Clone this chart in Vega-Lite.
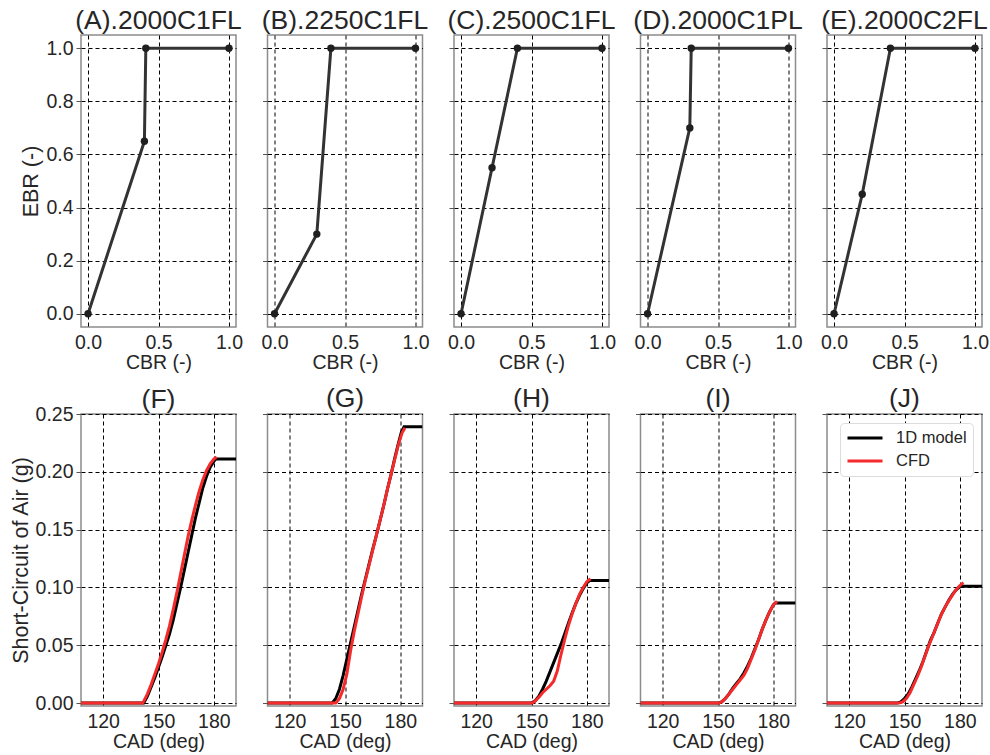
{
  "$schema": "https://vega.github.io/schema/vega-lite/v6.json",
  "padding": {"left": 9, "top": 6, "right": 4, "bottom": 6},
  "background": "white",
  "config": {
    "font": "Liberation Sans",
    "view": {"stroke": "#8c8c8c", "strokeWidth": 1.5},
    "axis": {
      "grid": true, "gridColor": "#000000", "gridDash": [4, 3], "gridWidth": 1, "gridOpacity": 1,
      "domain": false,
      "labelFont": "Liberation Sans", "titleFont": "Liberation Sans",
      "labelFontSize": 19.5, "titleFontSize": 19.5,
      "labelColor": "#262626", "titleColor": "#262626", "titleFontWeight": "normal",
      "tickColor": "#555555", "tickSize": 5, "tickWidth": 1
    },
    "axisX": {"ticks": false, "labelPadding": 6, "titlePadding": 2},
    "axisY": {"labelPadding": 3, "titlePadding": 3, "titleFontSize": 21.5},
    "title": {"font": "Liberation Sans", "fontSize": 26.5, "fontWeight": "normal", "color": "#262626", "offset": 1, "frame": "group"},
    "legend": {
      "labelFont": "Liberation Sans", "labelFontSize": 16.5, "labelColor": "#262626",
      "symbolType": "stroke", "symbolStrokeWidth": 3, "symbolSize": 1225,
      "fillColor": "white", "strokeColor": "#dcdcdc", "cornerRadius": 4, "padding": 6,
      "rowPadding": 5, "labelOffset": 12, "offset": 9, "clipHeight": 18
    }
  },
  "datasets": {
    "ratio": [
      {"case": "A", "i": 0, "cbr": 0.0, "ebr": 0.0},
      {"case": "A", "i": 1, "cbr": 0.40, "ebr": 0.65},
      {"case": "A", "i": 2, "cbr": 0.41, "ebr": 1.0},
      {"case": "A", "i": 3, "cbr": 1.0, "ebr": 1.0},
      {"case": "B", "i": 0, "cbr": 0.0, "ebr": 0.0},
      {"case": "B", "i": 1, "cbr": 0.30, "ebr": 0.30},
      {"case": "B", "i": 2, "cbr": 0.40, "ebr": 1.0},
      {"case": "B", "i": 3, "cbr": 1.0, "ebr": 1.0},
      {"case": "C", "i": 0, "cbr": 0.0, "ebr": 0.0},
      {"case": "C", "i": 1, "cbr": 0.22, "ebr": 0.55},
      {"case": "C", "i": 2, "cbr": 0.40, "ebr": 1.0},
      {"case": "C", "i": 3, "cbr": 1.0, "ebr": 1.0},
      {"case": "D", "i": 0, "cbr": 0.0, "ebr": 0.0},
      {"case": "D", "i": 1, "cbr": 0.30, "ebr": 0.70},
      {"case": "D", "i": 2, "cbr": 0.31, "ebr": 1.0},
      {"case": "D", "i": 3, "cbr": 1.0, "ebr": 1.0},
      {"case": "E", "i": 0, "cbr": 0.0, "ebr": 0.0},
      {"case": "E", "i": 1, "cbr": 0.20, "ebr": 0.45},
      {"case": "E", "i": 2, "cbr": 0.40, "ebr": 1.0},
      {"case": "E", "i": 3, "cbr": 1.0, "ebr": 1.0}
    ],
    "mass": [
      {"case": "F", "model": "1D model", "cad": 108, "air": 0},
      {"case": "F", "model": "1D model", "cad": 142, "air": 0},
      {"case": "F", "model": "1D model", "cad": 144, "air": 0.006},
      {"case": "F", "model": "1D model", "cad": 146, "air": 0.014},
      {"case": "F", "model": "1D model", "cad": 148, "air": 0.022},
      {"case": "F", "model": "1D model", "cad": 150, "air": 0.031},
      {"case": "F", "model": "1D model", "cad": 152, "air": 0.040},
      {"case": "F", "model": "1D model", "cad": 154, "air": 0.050},
      {"case": "F", "model": "1D model", "cad": 156, "air": 0.060},
      {"case": "F", "model": "1D model", "cad": 158, "air": 0.072},
      {"case": "F", "model": "1D model", "cad": 160, "air": 0.086},
      {"case": "F", "model": "1D model", "cad": 162, "air": 0.100},
      {"case": "F", "model": "1D model", "cad": 164, "air": 0.115},
      {"case": "F", "model": "1D model", "cad": 166, "air": 0.130},
      {"case": "F", "model": "1D model", "cad": 168, "air": 0.145},
      {"case": "F", "model": "1D model", "cad": 170, "air": 0.160},
      {"case": "F", "model": "1D model", "cad": 172, "air": 0.173},
      {"case": "F", "model": "1D model", "cad": 174, "air": 0.186},
      {"case": "F", "model": "1D model", "cad": 176, "air": 0.196},
      {"case": "F", "model": "1D model", "cad": 178, "air": 0.204},
      {"case": "F", "model": "1D model", "cad": 180, "air": 0.209},
      {"case": "F", "model": "1D model", "cad": 181, "air": 0.211},
      {"case": "F", "model": "1D model", "cad": 192, "air": 0.211},
      {"case": "F", "model": "CFD", "cad": 108, "air": 0},
      {"case": "F", "model": "CFD", "cad": 141.5, "air": 0},
      {"case": "F", "model": "CFD", "cad": 144, "air": 0.008},
      {"case": "F", "model": "CFD", "cad": 146, "air": 0.016},
      {"case": "F", "model": "CFD", "cad": 148, "air": 0.025},
      {"case": "F", "model": "CFD", "cad": 150, "air": 0.034},
      {"case": "F", "model": "CFD", "cad": 152, "air": 0.044},
      {"case": "F", "model": "CFD", "cad": 154, "air": 0.055},
      {"case": "F", "model": "CFD", "cad": 156, "air": 0.067},
      {"case": "F", "model": "CFD", "cad": 158, "air": 0.081},
      {"case": "F", "model": "CFD", "cad": 160, "air": 0.096},
      {"case": "F", "model": "CFD", "cad": 162, "air": 0.112},
      {"case": "F", "model": "CFD", "cad": 164, "air": 0.128},
      {"case": "F", "model": "CFD", "cad": 166, "air": 0.144},
      {"case": "F", "model": "CFD", "cad": 168, "air": 0.158},
      {"case": "F", "model": "CFD", "cad": 170, "air": 0.171},
      {"case": "F", "model": "CFD", "cad": 172, "air": 0.183},
      {"case": "F", "model": "CFD", "cad": 174, "air": 0.193},
      {"case": "F", "model": "CFD", "cad": 176, "air": 0.201},
      {"case": "F", "model": "CFD", "cad": 178, "air": 0.207},
      {"case": "F", "model": "CFD", "cad": 180, "air": 0.211},
      {"case": "F", "model": "CFD", "cad": 181.5, "air": 0.213},

      {"case": "G", "model": "1D model", "cad": 108, "air": 0},
      {"case": "G", "model": "1D model", "cad": 143, "air": 0},
      {"case": "G", "model": "1D model", "cad": 145, "air": 0.004},
      {"case": "G", "model": "1D model", "cad": 147, "air": 0.012},
      {"case": "G", "model": "1D model", "cad": 149, "air": 0.024},
      {"case": "G", "model": "1D model", "cad": 151, "air": 0.038},
      {"case": "G", "model": "1D model", "cad": 153, "air": 0.052},
      {"case": "G", "model": "1D model", "cad": 155, "air": 0.066},
      {"case": "G", "model": "1D model", "cad": 157, "air": 0.080},
      {"case": "G", "model": "1D model", "cad": 159, "air": 0.094},
      {"case": "G", "model": "1D model", "cad": 161, "air": 0.107},
      {"case": "G", "model": "1D model", "cad": 163, "air": 0.120},
      {"case": "G", "model": "1D model", "cad": 165, "air": 0.133},
      {"case": "G", "model": "1D model", "cad": 167, "air": 0.145},
      {"case": "G", "model": "1D model", "cad": 169, "air": 0.158},
      {"case": "G", "model": "1D model", "cad": 171, "air": 0.171},
      {"case": "G", "model": "1D model", "cad": 173, "air": 0.185},
      {"case": "G", "model": "1D model", "cad": 175, "air": 0.198},
      {"case": "G", "model": "1D model", "cad": 177, "air": 0.212},
      {"case": "G", "model": "1D model", "cad": 179, "air": 0.225},
      {"case": "G", "model": "1D model", "cad": 180.5, "air": 0.234},
      {"case": "G", "model": "1D model", "cad": 182, "air": 0.239},
      {"case": "G", "model": "1D model", "cad": 192, "air": 0.239},
      {"case": "G", "model": "CFD", "cad": 108, "air": 0},
      {"case": "G", "model": "CFD", "cad": 145, "air": 0},
      {"case": "G", "model": "CFD", "cad": 147, "air": 0.004},
      {"case": "G", "model": "CFD", "cad": 149, "air": 0.012},
      {"case": "G", "model": "CFD", "cad": 151, "air": 0.025},
      {"case": "G", "model": "CFD", "cad": 153, "air": 0.045},
      {"case": "G", "model": "CFD", "cad": 155, "air": 0.062},
      {"case": "G", "model": "CFD", "cad": 157, "air": 0.077},
      {"case": "G", "model": "CFD", "cad": 159, "air": 0.092},
      {"case": "G", "model": "CFD", "cad": 161, "air": 0.106},
      {"case": "G", "model": "CFD", "cad": 163, "air": 0.119},
      {"case": "G", "model": "CFD", "cad": 165, "air": 0.132},
      {"case": "G", "model": "CFD", "cad": 167, "air": 0.145},
      {"case": "G", "model": "CFD", "cad": 169, "air": 0.158},
      {"case": "G", "model": "CFD", "cad": 171, "air": 0.171},
      {"case": "G", "model": "CFD", "cad": 173, "air": 0.185},
      {"case": "G", "model": "CFD", "cad": 175, "air": 0.198},
      {"case": "G", "model": "CFD", "cad": 177, "air": 0.211},
      {"case": "G", "model": "CFD", "cad": 179, "air": 0.224},
      {"case": "G", "model": "CFD", "cad": 181, "air": 0.234},
      {"case": "G", "model": "CFD", "cad": 182.5, "air": 0.238},

      {"case": "H", "model": "1D model", "cad": 108, "air": 0},
      {"case": "H", "model": "1D model", "cad": 150, "air": 0},
      {"case": "H", "model": "1D model", "cad": 152, "air": 0.002},
      {"case": "H", "model": "1D model", "cad": 154, "air": 0.006},
      {"case": "H", "model": "1D model", "cad": 156, "air": 0.012},
      {"case": "H", "model": "1D model", "cad": 158, "air": 0.019},
      {"case": "H", "model": "1D model", "cad": 160, "air": 0.027},
      {"case": "H", "model": "1D model", "cad": 162, "air": 0.035},
      {"case": "H", "model": "1D model", "cad": 164, "air": 0.043},
      {"case": "H", "model": "1D model", "cad": 166, "air": 0.051},
      {"case": "H", "model": "1D model", "cad": 168, "air": 0.060},
      {"case": "H", "model": "1D model", "cad": 170, "air": 0.069},
      {"case": "H", "model": "1D model", "cad": 172, "air": 0.078},
      {"case": "H", "model": "1D model", "cad": 174, "air": 0.086},
      {"case": "H", "model": "1D model", "cad": 176, "air": 0.093},
      {"case": "H", "model": "1D model", "cad": 178, "air": 0.099},
      {"case": "H", "model": "1D model", "cad": 180, "air": 0.104},
      {"case": "H", "model": "1D model", "cad": 181.5, "air": 0.106},
      {"case": "H", "model": "1D model", "cad": 192, "air": 0.106},
      {"case": "H", "model": "CFD", "cad": 108, "air": 0},
      {"case": "H", "model": "CFD", "cad": 150.5, "air": 0},
      {"case": "H", "model": "CFD", "cad": 152, "air": 0.002},
      {"case": "H", "model": "CFD", "cad": 154, "air": 0.005},
      {"case": "H", "model": "CFD", "cad": 156, "air": 0.009},
      {"case": "H", "model": "CFD", "cad": 158, "air": 0.012},
      {"case": "H", "model": "CFD", "cad": 160, "air": 0.015},
      {"case": "H", "model": "CFD", "cad": 162, "air": 0.019},
      {"case": "H", "model": "CFD", "cad": 164, "air": 0.028},
      {"case": "H", "model": "CFD", "cad": 166, "air": 0.042},
      {"case": "H", "model": "CFD", "cad": 168, "air": 0.055},
      {"case": "H", "model": "CFD", "cad": 170, "air": 0.067},
      {"case": "H", "model": "CFD", "cad": 172, "air": 0.077},
      {"case": "H", "model": "CFD", "cad": 174, "air": 0.086},
      {"case": "H", "model": "CFD", "cad": 176, "air": 0.094},
      {"case": "H", "model": "CFD", "cad": 178, "air": 0.100},
      {"case": "H", "model": "CFD", "cad": 180, "air": 0.105},
      {"case": "H", "model": "CFD", "cad": 182, "air": 0.1075},

      {"case": "I", "model": "1D model", "cad": 108, "air": 0},
      {"case": "I", "model": "1D model", "cad": 150, "air": 0},
      {"case": "I", "model": "1D model", "cad": 152, "air": 0.001},
      {"case": "I", "model": "1D model", "cad": 154, "air": 0.004},
      {"case": "I", "model": "1D model", "cad": 156, "air": 0.008},
      {"case": "I", "model": "1D model", "cad": 158, "air": 0.013},
      {"case": "I", "model": "1D model", "cad": 160, "air": 0.017},
      {"case": "I", "model": "1D model", "cad": 162, "air": 0.021},
      {"case": "I", "model": "1D model", "cad": 164, "air": 0.026},
      {"case": "I", "model": "1D model", "cad": 166, "air": 0.032},
      {"case": "I", "model": "1D model", "cad": 168, "air": 0.039},
      {"case": "I", "model": "1D model", "cad": 170, "air": 0.047},
      {"case": "I", "model": "1D model", "cad": 172, "air": 0.055},
      {"case": "I", "model": "1D model", "cad": 174, "air": 0.064},
      {"case": "I", "model": "1D model", "cad": 176, "air": 0.072},
      {"case": "I", "model": "1D model", "cad": 178, "air": 0.079},
      {"case": "I", "model": "1D model", "cad": 180, "air": 0.085},
      {"case": "I", "model": "1D model", "cad": 181, "air": 0.0865},
      {"case": "I", "model": "1D model", "cad": 192, "air": 0.0865},
      {"case": "I", "model": "CFD", "cad": 108, "air": 0},
      {"case": "I", "model": "CFD", "cad": 150.5, "air": 0},
      {"case": "I", "model": "CFD", "cad": 152, "air": 0.001},
      {"case": "I", "model": "CFD", "cad": 154, "air": 0.004},
      {"case": "I", "model": "CFD", "cad": 156, "air": 0.008},
      {"case": "I", "model": "CFD", "cad": 158, "air": 0.012},
      {"case": "I", "model": "CFD", "cad": 160, "air": 0.016},
      {"case": "I", "model": "CFD", "cad": 162, "air": 0.020},
      {"case": "I", "model": "CFD", "cad": 164, "air": 0.024},
      {"case": "I", "model": "CFD", "cad": 166, "air": 0.030},
      {"case": "I", "model": "CFD", "cad": 168, "air": 0.038},
      {"case": "I", "model": "CFD", "cad": 170, "air": 0.046},
      {"case": "I", "model": "CFD", "cad": 172, "air": 0.055},
      {"case": "I", "model": "CFD", "cad": 174, "air": 0.064},
      {"case": "I", "model": "CFD", "cad": 176, "air": 0.072},
      {"case": "I", "model": "CFD", "cad": 178, "air": 0.079},
      {"case": "I", "model": "CFD", "cad": 180, "air": 0.085},
      {"case": "I", "model": "CFD", "cad": 182, "air": 0.088},

      {"case": "J", "model": "1D model", "cad": 108, "air": 0},
      {"case": "J", "model": "1D model", "cad": 146, "air": 0},
      {"case": "J", "model": "1D model", "cad": 148, "air": 0.001},
      {"case": "J", "model": "1D model", "cad": 150, "air": 0.004},
      {"case": "J", "model": "1D model", "cad": 152, "air": 0.008},
      {"case": "J", "model": "1D model", "cad": 154, "air": 0.014},
      {"case": "J", "model": "1D model", "cad": 156, "air": 0.021},
      {"case": "J", "model": "1D model", "cad": 158, "air": 0.028},
      {"case": "J", "model": "1D model", "cad": 160, "air": 0.036},
      {"case": "J", "model": "1D model", "cad": 162, "air": 0.045},
      {"case": "J", "model": "1D model", "cad": 164, "air": 0.054},
      {"case": "J", "model": "1D model", "cad": 166, "air": 0.061},
      {"case": "J", "model": "1D model", "cad": 168, "air": 0.069},
      {"case": "J", "model": "1D model", "cad": 170, "air": 0.077},
      {"case": "J", "model": "1D model", "cad": 172, "air": 0.083},
      {"case": "J", "model": "1D model", "cad": 174, "air": 0.089},
      {"case": "J", "model": "1D model", "cad": 176, "air": 0.094},
      {"case": "J", "model": "1D model", "cad": 178, "air": 0.098},
      {"case": "J", "model": "1D model", "cad": 180, "air": 0.1005},
      {"case": "J", "model": "1D model", "cad": 181, "air": 0.101},
      {"case": "J", "model": "1D model", "cad": 192, "air": 0.101},
      {"case": "J", "model": "CFD", "cad": 108, "air": 0},
      {"case": "J", "model": "CFD", "cad": 147, "air": 0},
      {"case": "J", "model": "CFD", "cad": 149, "air": 0.001},
      {"case": "J", "model": "CFD", "cad": 151, "air": 0.004},
      {"case": "J", "model": "CFD", "cad": 153, "air": 0.009},
      {"case": "J", "model": "CFD", "cad": 155, "air": 0.016},
      {"case": "J", "model": "CFD", "cad": 157, "air": 0.023},
      {"case": "J", "model": "CFD", "cad": 159, "air": 0.031},
      {"case": "J", "model": "CFD", "cad": 161, "air": 0.040},
      {"case": "J", "model": "CFD", "cad": 163, "air": 0.049},
      {"case": "J", "model": "CFD", "cad": 165, "air": 0.057},
      {"case": "J", "model": "CFD", "cad": 167, "air": 0.065},
      {"case": "J", "model": "CFD", "cad": 169, "air": 0.073},
      {"case": "J", "model": "CFD", "cad": 171, "air": 0.080},
      {"case": "J", "model": "CFD", "cad": 173, "air": 0.086},
      {"case": "J", "model": "CFD", "cad": 175, "air": 0.091},
      {"case": "J", "model": "CFD", "cad": 177, "air": 0.096},
      {"case": "J", "model": "CFD", "cad": 179, "air": 0.100},
      {"case": "J", "model": "CFD", "cad": 181, "air": 0.103},
      {"case": "J", "model": "CFD", "cad": 182, "air": 0.104}
    ]
  },
  "bounds": "flush",
  "columns": 5,
  "spacing": {"row": 87, "column": 31.5},
  "resolve": {"scale": {"x": "independent", "y": "independent", "color": "independent"}, "legend": {"color": "independent"}},
  "concat": [
    {
      "title": "(A).2000C1FL", "width": 155, "height": 292,
      "data": {"name": "ratio"},
      "transform": [{"filter": "datum.case == 'A'"}],
      "encoding": {
        "x": {"field": "cbr", "type": "quantitative", "scale": {"domain": [-0.05, 1.05], "nice": false, "zero": false}, "axis": {"values": [0, 0.5, 1], "format": ".1f", "title": "CBR (-)"}},
        "y": {"field": "ebr", "type": "quantitative", "scale": {"domain": [-0.05, 1.05], "nice": false, "zero": false}, "axis": {"values": [0, 0.2, 0.4, 0.6, 0.8, 1.0], "format": ".1f", "title": "EBR (-)"}},
        "order": {"field": "i"}
      },
      "layer": [
        {"mark": {"type": "line", "color": "#333333", "strokeWidth": 3}},
        {"mark": {"type": "point", "filled": true, "color": "#1f1f1f", "size": 55, "opacity": 1}}
      ]
    },
    {
      "title": "(B).2250C1FL", "width": 155, "height": 292,
      "data": {"name": "ratio"},
      "transform": [{"filter": "datum.case == 'B'"}],
      "encoding": {
        "x": {"field": "cbr", "type": "quantitative", "scale": {"domain": [-0.05, 1.05], "nice": false, "zero": false}, "axis": {"values": [0, 0.5, 1], "format": ".1f", "title": "CBR (-)"}},
        "y": {"field": "ebr", "type": "quantitative", "scale": {"domain": [-0.05, 1.05], "nice": false, "zero": false}, "axis": {"values": [0, 0.2, 0.4, 0.6, 0.8, 1.0], "labels": false, "title": null}},
        "order": {"field": "i"}
      },
      "layer": [
        {"mark": {"type": "line", "color": "#333333", "strokeWidth": 3}},
        {"mark": {"type": "point", "filled": true, "color": "#1f1f1f", "size": 55, "opacity": 1}}
      ]
    },
    {
      "title": "(C).2500C1FL", "width": 155, "height": 292,
      "data": {"name": "ratio"},
      "transform": [{"filter": "datum.case == 'C'"}],
      "encoding": {
        "x": {"field": "cbr", "type": "quantitative", "scale": {"domain": [-0.05, 1.05], "nice": false, "zero": false}, "axis": {"values": [0, 0.5, 1], "format": ".1f", "title": "CBR (-)"}},
        "y": {"field": "ebr", "type": "quantitative", "scale": {"domain": [-0.05, 1.05], "nice": false, "zero": false}, "axis": {"values": [0, 0.2, 0.4, 0.6, 0.8, 1.0], "labels": false, "title": null}},
        "order": {"field": "i"}
      },
      "layer": [
        {"mark": {"type": "line", "color": "#333333", "strokeWidth": 3}},
        {"mark": {"type": "point", "filled": true, "color": "#1f1f1f", "size": 55, "opacity": 1}}
      ]
    },
    {
      "title": "(D).2000C1PL", "width": 155, "height": 292,
      "data": {"name": "ratio"},
      "transform": [{"filter": "datum.case == 'D'"}],
      "encoding": {
        "x": {"field": "cbr", "type": "quantitative", "scale": {"domain": [-0.05, 1.05], "nice": false, "zero": false}, "axis": {"values": [0, 0.5, 1], "format": ".1f", "title": "CBR (-)"}},
        "y": {"field": "ebr", "type": "quantitative", "scale": {"domain": [-0.05, 1.05], "nice": false, "zero": false}, "axis": {"values": [0, 0.2, 0.4, 0.6, 0.8, 1.0], "labels": false, "title": null}},
        "order": {"field": "i"}
      },
      "layer": [
        {"mark": {"type": "line", "color": "#333333", "strokeWidth": 3}},
        {"mark": {"type": "point", "filled": true, "color": "#1f1f1f", "size": 55, "opacity": 1}}
      ]
    },
    {
      "title": "(E).2000C2FL", "width": 155, "height": 292,
      "data": {"name": "ratio"},
      "transform": [{"filter": "datum.case == 'E'"}],
      "encoding": {
        "x": {"field": "cbr", "type": "quantitative", "scale": {"domain": [-0.05, 1.05], "nice": false, "zero": false}, "axis": {"values": [0, 0.5, 1], "format": ".1f", "title": "CBR (-)"}},
        "y": {"field": "ebr", "type": "quantitative", "scale": {"domain": [-0.05, 1.05], "nice": false, "zero": false}, "axis": {"values": [0, 0.2, 0.4, 0.6, 0.8, 1.0], "labels": false, "title": null}},
        "order": {"field": "i"}
      },
      "layer": [
        {"mark": {"type": "line", "color": "#333333", "strokeWidth": 3}},
        {"mark": {"type": "point", "filled": true, "color": "#1f1f1f", "size": 55, "opacity": 1}}
      ]
    },
    {
      "title": {"text": "(F)", "offset": -9}, "width": 155, "height": 292,
      "data": {"name": "mass"},
      "transform": [{"filter": "datum.case == 'F'"}],
      "mark": {"type": "line", "strokeWidth": 3, "clip": true},
      "encoding": {
        "x": {"field": "cad", "type": "quantitative", "scale": {"domain": [108, 192], "nice": false, "zero": false}, "axis": {"values": [120, 150, 180], "title": "CAD (deg)"}},
        "y": {"field": "air", "type": "quantitative", "scale": {"domain": [-0.0025, 0.25], "nice": false, "zero": false}, "axis": {"values": [0, 0.05, 0.1, 0.15, 0.2, 0.25], "format": ".2f", "title": "Short-Circuit of Air (g)"}},
        "color": {"field": "model", "type": "nominal", "scale": {"domain": ["1D model", "CFD"], "range": ["#000000", "#f52a2a"]}, "legend": null},
        "order": {"field": "cad"}
      }
    },
    {
      "title": "(G)", "width": 155, "height": 292,
      "data": {"name": "mass"},
      "transform": [{"filter": "datum.case == 'G'"}],
      "mark": {"type": "line", "strokeWidth": 3, "clip": true},
      "encoding": {
        "x": {"field": "cad", "type": "quantitative", "scale": {"domain": [108, 192], "nice": false, "zero": false}, "axis": {"values": [120, 150, 180], "title": "CAD (deg)"}},
        "y": {"field": "air", "type": "quantitative", "scale": {"domain": [-0.0025, 0.25], "nice": false, "zero": false}, "axis": {"values": [0, 0.05, 0.1, 0.15, 0.2, 0.25], "labels": false, "title": null}},
        "color": {"field": "model", "type": "nominal", "scale": {"domain": ["1D model", "CFD"], "range": ["#000000", "#f52a2a"]}, "legend": null},
        "order": {"field": "cad"}
      }
    },
    {
      "title": "(H)", "width": 155, "height": 292,
      "data": {"name": "mass"},
      "transform": [{"filter": "datum.case == 'H'"}],
      "mark": {"type": "line", "strokeWidth": 3, "clip": true},
      "encoding": {
        "x": {"field": "cad", "type": "quantitative", "scale": {"domain": [108, 192], "nice": false, "zero": false}, "axis": {"values": [120, 150, 180], "title": "CAD (deg)"}},
        "y": {"field": "air", "type": "quantitative", "scale": {"domain": [-0.0025, 0.25], "nice": false, "zero": false}, "axis": {"values": [0, 0.05, 0.1, 0.15, 0.2, 0.25], "labels": false, "title": null}},
        "color": {"field": "model", "type": "nominal", "scale": {"domain": ["1D model", "CFD"], "range": ["#000000", "#f52a2a"]}, "legend": null},
        "order": {"field": "cad"}
      }
    },
    {
      "title": "(I)", "width": 155, "height": 292,
      "data": {"name": "mass"},
      "transform": [{"filter": "datum.case == 'I'"}],
      "mark": {"type": "line", "strokeWidth": 3, "clip": true},
      "encoding": {
        "x": {"field": "cad", "type": "quantitative", "scale": {"domain": [108, 192], "nice": false, "zero": false}, "axis": {"values": [120, 150, 180], "title": "CAD (deg)"}},
        "y": {"field": "air", "type": "quantitative", "scale": {"domain": [-0.0025, 0.25], "nice": false, "zero": false}, "axis": {"values": [0, 0.05, 0.1, 0.15, 0.2, 0.25], "labels": false, "title": null}},
        "color": {"field": "model", "type": "nominal", "scale": {"domain": ["1D model", "CFD"], "range": ["#000000", "#f52a2a"]}, "legend": null},
        "order": {"field": "cad"}
      }
    },
    {
      "title": "(J)", "width": 155, "height": 292,
      "data": {"name": "mass"},
      "transform": [{"filter": "datum.case == 'J'"}],
      "mark": {"type": "line", "strokeWidth": 3, "clip": true},
      "encoding": {
        "x": {"field": "cad", "type": "quantitative", "scale": {"domain": [108, 192], "nice": false, "zero": false}, "axis": {"values": [120, 150, 180], "title": "CAD (deg)"}},
        "y": {"field": "air", "type": "quantitative", "scale": {"domain": [-0.0025, 0.25], "nice": false, "zero": false}, "axis": {"values": [0, 0.05, 0.1, 0.15, 0.2, 0.25], "labels": false, "title": null}},
        "color": {"field": "model", "type": "nominal", "scale": {"domain": ["1D model", "CFD"], "range": ["#000000", "#f52a2a"]}, "legend": {"title": null, "orient": "top-right"}},
        "order": {"field": "cad"}
      }
    }
  ]
}
